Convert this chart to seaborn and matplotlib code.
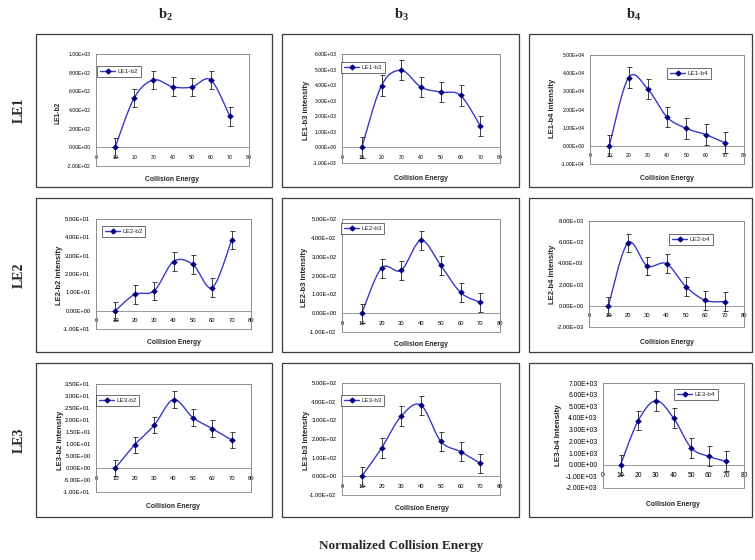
import numpy as np
import matplotlib
matplotlib.use("Agg")
import matplotlib.pyplot as plt
import seaborn as sns
import pandas as pd
from matplotlib.lines import Line2D
from matplotlib.patches import Rectangle
from matplotlib.ticker import FuncFormatter, MultipleLocator

# ---------------- data ----------------
energy = [10, 20, 30, 40, 50, 60, 70]

le1_b2 = [0, 530, 722, 649, 645, 722, 332]
le1_b2_err = [100, 100, 100, 100, 100, 100, 100]
le1_b3 = [0, 3970, 4950, 3870, 3560, 3340, 1380]
le1_b3_err = [650, 650, 650, 650, 650, 650, 650]
le1_b4 = [0, 37500, 31300, 15800, 9600, 6200, 1700]
le1_b4_err = [5700, 5700, 5700, 5700, 5700, 5700, 5700]

le2_b2 = [0, 8.9, 10.8, 26.8, 25.2, 12.6, 38.5]
le2_b2_err = [5, 5, 5, 5, 5, 5, 5]
le2_b3 = [0, 239, 228, 386, 254, 110, 58]
le2_b3_err = [50, 50, 50, 50, 50, 50, 50]
le2_b4 = [0, 5930, 3770, 3970, 1810, 520, 390]
le2_b4_err = [870, 870, 870, 870, 870, 870, 870]

le3_b2 = [0, 9.7, 17.8, 28.5, 21.0, 16.4, 11.7]
le3_b2_err = [3.4, 3.4, 3.4, 3.4, 3.4, 3.4, 3.4]
le3_b3 = [0, 151, 323, 381, 188, 132, 70]
le3_b3_err = [52, 52, 52, 52, 52, 52, 52]
le3_b4 = [0, 3780, 5480, 4000, 1450, 710, 280]
le3_b4_err = [850, 850, 850, 850, 850, 850, 850]

column_titles = ["b$_\\mathbf{2}$", "b$_\\mathbf{3}$", "b$_\\mathbf{4}$"]
row_titles = ["LE1", "LE2", "LE3"]
xlabel_text = "Collision Energy"
bottom_title = "Normalized Collision Energy"

# ---------------- layout (pixels) ----------------
W, H = 755, 560
sns.set_style("white")
plt.rcParams["font.family"] = ["Liberation Sans", "DejaVu Sans"]
plt.rcParams["mathtext.fontset"] = "custom"
plt.rcParams["mathtext.rm"] = "Liberation Serif:bold"
plt.rcParams["mathtext.bf"] = "Liberation Serif:bold"
plt.rcParams["mathtext.it"] = "Liberation Serif:bold"

fig = plt.figure(figsize=(W / 100, H / 100), dpi=100)
fig.patch.set_facecolor("white")

LINE_C = "#3A3AC8"
MARK_C = "#000080"
GRID_C = "#8C8C8C"


def fx(x):
    return x / W


def fy(y):
    return 1 - y / H


def excel_smooth(x, y, n=24):
    P = np.column_stack([np.asarray(x, float), np.asarray(y, float)])
    Pe = np.vstack([P[0], P, P[-1]])
    parts = []
    t = np.linspace(0, 1, n)[:, None]
    for i in range(len(P) - 1):
        p0, p1, p2, p3 = Pe[i], Pe[i + 1], Pe[i + 2], Pe[i + 3]
        c1 = p1 + (p2 - p0) / 6.0
        c2 = p2 - (p3 - p1) / 6.0
        seg = (1 - t) ** 3 * p1 + 3 * (1 - t) ** 2 * t * c1 + 3 * (1 - t) * t ** 2 * c2 + t ** 3 * p2
        parts.append(seg if i == 0 else seg[1:])
    return np.vstack(parts)


def sci(v, pos):
    if abs(v) < 1e-9:
        v = 0.0
    return f"{v:.2E}"


# name, values, errors, ylim, ystep, ylabel, axes px (x0,x1,y0,y1), legend px (x,y),
# xlabel px (x,y), ylabel px (x,y), tick font size, ylabel size
panels = [
    ("LE1-b2", le1_b2, le1_b2_err, (-200, 1000), 200, "LE1-b2", (96, 249, 54, 166), (97, 66), (172, 179), (58, 113), 3.7, 4.8),
    ("LE1-b3", le1_b3, le1_b3_err, (-1000, 6000), 1000, "LE1-b3 intensity", (342, 500, 54, 163), (341, 62), (421, 178), (307, 110), 3.7, 5.5),
    ("LE1-b4", le1_b4, le1_b4_err, (-10000, 50000), 10000, "LE1-b4 Intensity", (590, 744, 55, 164), (667, 68), (667, 178), (553, 108), 3.7, 5.5),
    ("LE2-b2", le2_b2, le2_b2_err, (-10, 50), 10, "LE2-b2 intensity", (96, 251, 219, 329), (102, 226), (174, 343), (59, 275), 4.2, 5.5),
    ("LE2-b3", le2_b3, le2_b3_err, (-100, 500), 100, "LE2-b3 intensity", (342, 500, 219, 332), (341, 223), (421, 345), (305, 277), 4.2, 5.5),
    ("LE2-b4", le2_b4, le2_b4_err, (-2000, 8000), 2000, "LE2-b4 Intensity", (589, 744, 221, 327), (669, 234), (667, 342), (552, 274), 4.2, 5.5),
    ("LE3-b2", le3_b2, le3_b2_err, (-10, 35), 5, "LE3-b2 intensity", (96, 251, 384, 492), (96, 395), (173, 507), (60, 440), 4.2, 5.5),
    ("LE3-b3", le3_b3, le3_b3_err, (-100, 500), 100, "LE3-b3 intensity", (342, 500, 383, 495), (341, 395), (422, 508), (306, 440), 4.2, 5.5),
    ("LE3-b4", le3_b4, le3_b4_err, (-2000, 7000), 1000, "LE3-b4 Intensity", (603, 744, 383, 488), (674, 389), (673, 504), (559, 435), 4.9, 5.8),
]

for name, vals, errs, ylim, ystep, ylab, (x0, x1, y0, y1), (lx, ly), (xlx, xly), (ylx, yly), tfs, yfs in panels:
    ax = fig.add_axes([fx(x0), fy(y1), (x1 - x0) / W, (y1 - y0) / H])
    ax.set_facecolor("white")
    curve = excel_smooth(energy, vals)
    df_curve = pd.DataFrame({"x": curve[:, 0], "y": curve[:, 1]})
    df_pts = pd.DataFrame({"x": energy, "y": vals, "err": errs})
    sns.lineplot(data=df_curve, x="x", y="y", sort=False, estimator=None, ax=ax,
                 color=LINE_C, lw=1.0, zorder=3)
    ax.errorbar(df_pts["x"], df_pts["y"], yerr=df_pts["err"], fmt="none",
                ecolor="#222222", elinewidth=0.6, capsize=1.8, capthick=0.6, zorder=4)
    sns.scatterplot(data=df_pts, x="x", y="y", ax=ax, marker="D", s=9,
                    color=MARK_C, edgecolor=MARK_C, linewidth=0.3, zorder=5)
    ax.set_xlim(0, 80)
    ax.set_ylim(*ylim)
    ax.xaxis.set_major_locator(MultipleLocator(10))
    ax.yaxis.set_major_locator(MultipleLocator(ystep))
    ax.yaxis.set_major_formatter(FuncFormatter(sci))
    for s in ["top", "right", "left"]:
        ax.spines[s].set_color(GRID_C)
        ax.spines[s].set_linewidth(0.6)
    ax.spines["bottom"].set_position(("data", 0))
    ax.spines["bottom"].set_color(GRID_C)
    ax.spines["bottom"].set_linewidth(0.6)
    ax.add_patch(Rectangle((0, 0), 1, 1, transform=ax.transAxes, fill=False,
                           ec=GRID_C, lw=0.6, clip_on=False, zorder=1))
    ax.tick_params(axis="both", direction="out", length=2, width=0.5, color=GRID_C,
                   labelsize=tfs, labelcolor="black")
    ax.tick_params(axis="x", pad=3.5)
    ax.tick_params(axis="y", pad=2)
    ax.set_xlabel(xlabel_text, fontsize=4.9, fontweight="bold")
    ax.xaxis.set_label_coords((xlx - x0) / (x1 - x0), (y1 - xly) / (y1 - y0))
    ax.xaxis.label.set_va("center")
    ax.set_ylabel(ylab, fontsize=yfs, fontweight="bold")
    ax.yaxis.set_label_coords((ylx - x0) / (x1 - x0), (y1 - yly) / (y1 - y0))
    ax.yaxis.label.set_va("center")
    handle = Line2D([], [], color=LINE_C, lw=1.0, marker="D", markersize=2.4,
                    markerfacecolor=MARK_C, markeredgecolor=MARK_C)
    leg = ax.legend([handle], [name], loc="upper left", bbox_to_anchor=(fx(lx), fy(ly)),
                    bbox_transform=fig.transFigure, frameon=True, fancybox=False,
                    edgecolor="black", fontsize=4.6, handlelength=2.4, borderpad=0.45,
                    borderaxespad=0, handletextpad=0.3)
    leg.get_frame().set_linewidth(0.5)

# outer panel boxes
cols = [(36, 272), (282, 519), (529, 752)]
rows = [(34, 187), (198, 352), (363, 517)]
for (cx0, cx1) in cols:
    for (ry0, ry1) in rows:
        fig.patches.append(Rectangle((fx(cx0), fy(ry1)), (cx1 - cx0) / W, (ry1 - ry0) / H,
                                     transform=fig.transFigure, fill=False,
                                     ec="#3C3C3C", lw=0.9))

# column titles
for title, cx in zip(column_titles, [165, 402, 634]):
    fig.text(fx(cx), fy(15), title, ha="center", va="center", fontsize=10.5,
             family="Liberation Serif", fontweight="bold")

# row titles
for title, ry in zip(row_titles, [110, 275, 440]):
    fig.text(fx(19), fy(ry), title, ha="center", va="center", rotation=90, fontsize=10,
             family="Liberation Serif", fontweight="bold")

fig.text(fx(401), fy(546), bottom_title, ha="center", va="center", fontsize=9.5,
         family="Liberation Serif", fontweight="bold")

fig.savefig("out.png", dpi=100, facecolor="white")
